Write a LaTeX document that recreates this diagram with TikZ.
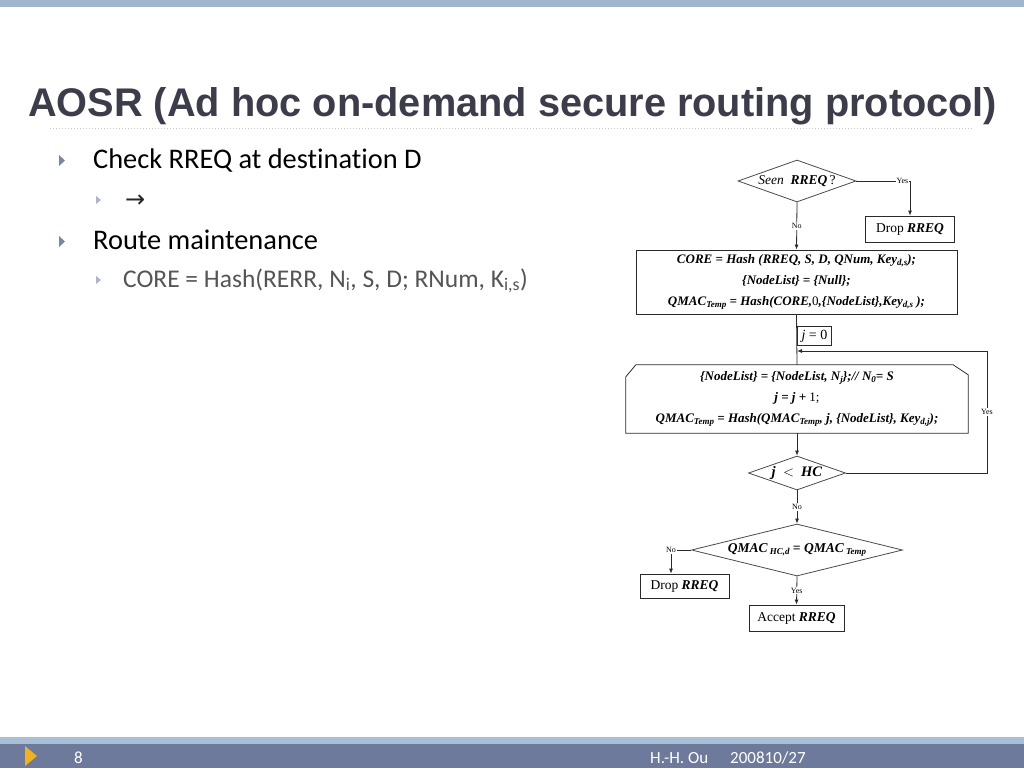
\documentclass[tikz,border=0pt]{standalone}
\usepackage{fontspec}
\setmainfont{Carlito}[Ligatures=NoCommon]
\newfontfamily\titlefont{Liberation Sans}
\newfontfamily\timesfont{Liberation Serif}
\newfontfamily\symfont{DejaVu Sans}
\usetikzlibrary{arrows.meta,shapes.geometric}
\definecolor{topbar}{HTML}{9FB6CE}
\definecolor{botlight}{HTML}{A9BFD5}
\definecolor{botdark}{HTML}{6D7A9C}
\definecolor{titlecol}{HTML}{3C3C4A}
\definecolor{bulone}{HTML}{7A86A6}
\definecolor{bultwo}{HTML}{AAB5CB}
\definecolor{subtext}{HTML}{555555}
\definecolor{flow}{HTML}{2A2A2A}
\definecolor{orangetri}{HTML}{F2B21C}
\definecolor{dotcol}{HTML}{C8C8C8}
\newcommand{\bi}[1]{\textbf{\textit{#1}}}
\newcommand{\lsub}[1]{\raisebox{-0.45ex}{\fontsize{9}{9}\selectfont #1}}
\begin{document}
\begin{tikzpicture}[x=1pt,y=-1pt,
  fbox/.style={draw=flow,line width=0.8pt,inner sep=0pt,align=center,
    font=\timesfont\fontsize{13}{21}\selectfont},
  fdia/.style={draw=flow!85,line width=0.8pt,diamond,inner sep=0pt,align=center,
    font=\timesfont\fontsize{13.5}{15}\selectfont},
  lbl/.style={fill=white,inner sep=1pt,font=\timesfont\fontsize{8}{9}\selectfont},
  arr/.style={draw=flow,line width=0.8pt,-{Latex[length=5pt,width=4pt]}},
  ln/.style={draw=flow,line width=0.8pt},
  txtone/.style={anchor=base west,inner sep=0pt,font=\fontsize{28.4}{32}\selectfont,text=black},
  txttwo/.style={anchor=base west,inner sep=0pt,font=\fontsize{25.5}{30}\selectfont,text=subtext},
  foot/.style={anchor=base west,inner sep=0pt,font=\fontsize{17}{20}\selectfont,text=white}]
\useasboundingbox (0,0) rectangle (1024,768);
\fill[white] (0,0) rectangle (1024,768);
% bars
\fill[topbar] (0,0) rectangle (1024,7);
\fill[botlight] (0,737) rectangle (1024,744);
\fill[botdark] (0,744) rectangle (1024,768);
\fill[orangetri] (25,746) -- (37,756) -- (25,766) -- cycle;
\node[foot] (pg) at (74,763) {8};
\node[foot] (auth) at (650,763) {H.-H. Ou};
\node[foot] (date) at (730,763) {200810/27};
% title
\node[anchor=base west,inner sep=0pt,text=titlecol,font=\titlefont\bfseries\fontsize{40}{48}\selectfont]
  (title) at (28,116) {\resizebox{969pt}{\height}{AOSR (Ad hoc on-demand secure routing protocol)}};
\draw[dotcol,line width=1pt,dotted] (50,128) -- (972,128);
% bullets
\fill[bulone] (59,155) -- (65,160.5) -- (59,166) -- cycle;
\node[txtone] (b1) at (93,168) {Check RREQ at destination D};
\fill[bultwo] (96,196) -- (101,200) -- (96,204) -- cycle;
\node[anchor=base west,inner sep=0pt,font=\symfont\fontsize{24}{28}\selectfont,text=black!85] (b1a) at (125,207) {→};
\fill[bulone] (59,236) -- (65,241.5) -- (59,247) -- cycle;
\node[txtone] (b2) at (93,249) {Route maintenance};
\fill[bultwo] (96,276) -- (101,280) -- (96,284) -- cycle;
\node[txttwo] (b2a) at (123,287) {CORE = Hash(RERR, N\textsubscript{i}, S, D; RNum, K\textsubscript{i,s})};
% flowchart nodes
\node[fdia,minimum width=118pt,minimum height=42pt,aspect=2.8,font=\timesfont\fontsize{13.5}{15}\selectfont] (seen) at (797,181)
  {\textit{Seen} \ \bi{RREQ}\,?};
\node[fbox,minimum width=89pt,minimum height=26pt,font=\timesfont\fontsize{13.5}{15}\selectfont] (drop1) at (910,229)
  {Drop \bi{RREQ}};
\node[fbox,minimum width=321pt,minimum height=64pt] (core) at (796.5,282)
  {\bi{CORE = Hash (RREQ, S, D, QNum, Key\lsub{d,s});}\\
   \bi{\{NodeList\} = \{Null\};}\\
   \bi{QMAC\lsub{Temp} = Hash(CORE,}0\bi{,\{NodeList\},Key\lsub{d,s} );}};
\node[fbox,minimum width=34pt,minimum height=19pt,anchor=west,font=\timesfont\fontsize{14}{15}\selectfont] (j0) at (797,336)
  {\textit{j} = 0};
\node[inner sep=0pt,minimum width=342pt,minimum height=68pt,align=center,
  font=\timesfont\fontsize{13}{21}\selectfont] (hex) at (797,399)
  {\bi{\{NodeList\} = \{NodeList, N\lsub{j}\};// N\lsub{0}= S}\\
   \bi{j = j + }1;\\
   \bi{QMAC\lsub{Temp} = Hash(QMAC\lsub{Temp}, j, \{NodeList\}, Key\lsub{d,j});}};
\draw[ln] (hex.south west) -- ([yshift=-12pt]hex.north west) -- ([xshift=10pt]hex.north west)
  -- ([xshift=-15pt]hex.north east) -- ([yshift=-10pt]hex.north east) -- (hex.south east) -- cycle;
\node[fdia,minimum width=97pt,minimum height=34pt,aspect=2.85,font=\timesfont\fontsize{14.5}{16}\selectfont] (jhc) at (797,473)
  {\bi{j \ $<$ \ HC}};
\node[fdia,minimum width=211pt,minimum height=52pt,aspect=4] (qmac) at (797,550)
  {\bi{QMAC\,\lsub{HC,d} = QMAC\,\lsub{Temp}}};
\node[fbox,minimum width=89pt,minimum height=24pt,font=\timesfont\fontsize{13.5}{15}\selectfont] (drop2) at (684.5,586)
  {Drop \bi{RREQ}};
\node[fbox,minimum width=95pt,minimum height=26pt,font=\timesfont\fontsize{13.5}{15}\selectfont] (accept) at (796.5,618)
  {Accept \bi{RREQ}};
\coordinate (loopc) at (987,351);
\coordinate (loopin) at (797,351);
\coordinate (notwo) at (671,550);
% connectors
\draw[arr] (seen.south) -- (core.north) node[lbl,midway] {No};
\draw[arr] (seen.east) -| (drop1.north) node[lbl,pos=0.43] {Yes};
\draw[ln] (core.south) -- (hex.north);
\draw[arr] (jhc.east) -| (loopc) node[lbl,pos=0.75] {Yes} -- (loopin);
\draw[arr] (hex.south) -- (jhc.north);
\draw[arr] (jhc.south) -- (qmac.north) node[lbl,midway] {No};
\draw[ln] (qmac.west) -- (notwo);
\draw[arr] (notwo) -- (notwo |- drop2.north);
\node[lbl] (nolbl) at (notwo) {No};
\draw[arr] (qmac.south) -- (accept.north) node[lbl,midway] {Yes};
\end{tikzpicture}
\end{document}
